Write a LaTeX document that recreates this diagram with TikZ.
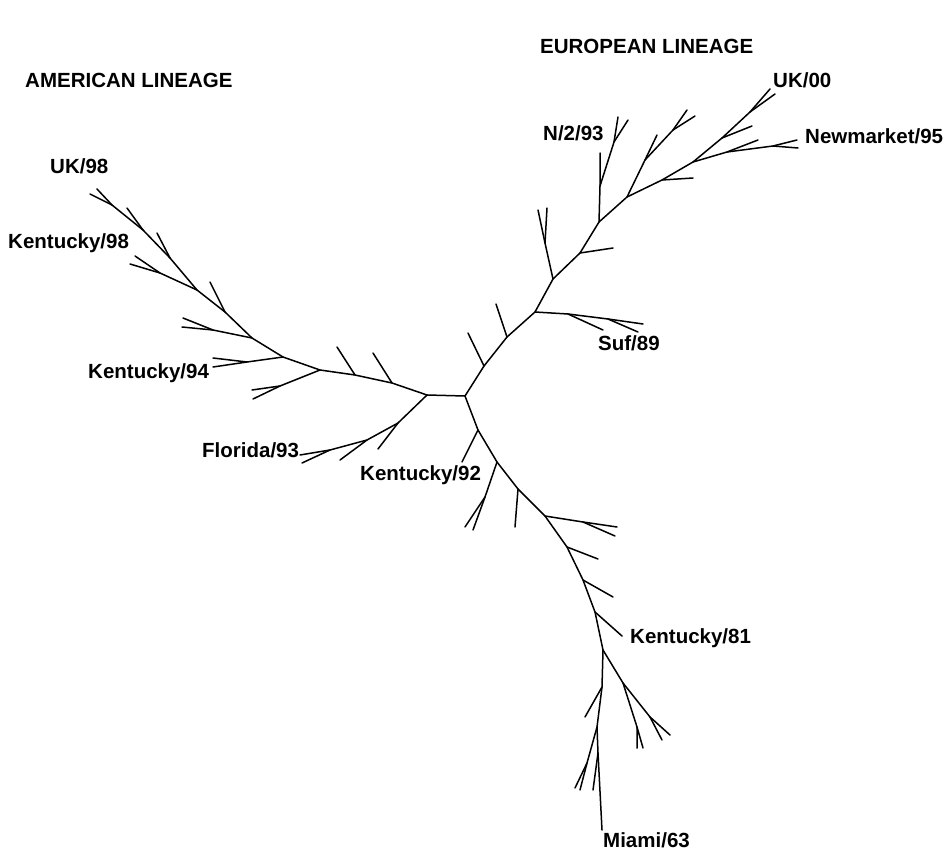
\documentclass[tikz,border=0pt]{standalone}
\usepackage{fontspec}
\setmainfont{Liberation Sans}

\begin{document}
\begin{tikzpicture}[
  x=1pt, y=-1pt,
  font=\bfseries\fontsize{20.5}{24}\selectfont,
  branch/.style={line width=1.5pt, line cap=round, line join=round},
  taxon/.style={inner sep=0pt, anchor=base west},
  lineage/.style={taxon, font=\bfseries\fontsize{20.5}{24}\selectfont}
]
\useasboundingbox (0,0) rectangle (947,851);

% centre of the tree
\coordinate (c1) at (427,395);
\coordinate (c2) at (465,396);

% european lineage, trunk and side branches
\coordinate (e1) at (484,366);  \coordinate (e1t) at (468,333);
\coordinate (e2) at (507,337);  \coordinate (e2t) at (496,304);
\coordinate (e3) at (535,312);
\coordinate (s1) at (568,314);  \coordinate (s1t) at (603,330);
\coordinate (s2) at (608,319);  \coordinate (s2t) at (643,324);
\coordinate (s3t) at (638,332);
\coordinate (e4) at (553,279);  \coordinate (e4a) at (545,243);
\coordinate (e4t) at (538,210); \coordinate (e4u) at (547,208);
\coordinate (e5) at (580,253);  \coordinate (e5t) at (613,248);
\coordinate (e6) at (599,222);  \coordinate (n1) at (600,186);
\coordinate (n1t) at (600,153); \coordinate (n2) at (614,142);
\coordinate (n2t) at (618,117); \coordinate (n2u) at (628,120);
\coordinate (e7) at (627,197);  \coordinate (g1) at (645,160);
\coordinate (g1t) at (657,135); \coordinate (g2) at (673,130);
\coordinate (g2t) at (687,110); \coordinate (g2u) at (695,116);
\coordinate (e8) at (662,180);  \coordinate (e8t) at (693,178);
\coordinate (e9) at (693,162);
\coordinate (w1) at (727,152);  \coordinate (w1t) at (758,140);
\coordinate (w2) at (773,146);  \coordinate (w2t) at (797,140);
\coordinate (w2u) at (798,148);
\coordinate (e10) at (722,138); \coordinate (e10t) at (752,126);
\coordinate (e11) at (750,112); \coordinate (e11t) at (770,89);
\coordinate (e11u) at (775,94);

% american lineage
\coordinate (a1) at (392,383);  \coordinate (a1t) at (373,353);
\coordinate (a2) at (355,375);  \coordinate (a2t) at (337,347);
\coordinate (a3) at (320,370);  \coordinate (b1) at (280,386);
\coordinate (b1t) at (252,390); \coordinate (b1u) at (253,399);
\coordinate (a4) at (283,357);  \coordinate (k1) at (247,362);
\coordinate (k1t) at (213,358); \coordinate (k1u) at (213,367);
\coordinate (a5) at (252,338);  \coordinate (k2) at (213,330);
\coordinate (k2t) at (183,318); \coordinate (k2u) at (182,327);
\coordinate (a6) at (225,312);  \coordinate (a6t) at (210,282);
\coordinate (a7) at (197,290);  \coordinate (k3) at (160,273);
\coordinate (k3t) at (135,256); \coordinate (k3u) at (130,264);
\coordinate (a8) at (170,258);  \coordinate (a8t) at (157,233);
\coordinate (a9) at (143,230);  \coordinate (a9t) at (127,208);
\coordinate (a10) at (112,205); \coordinate (a10t) at (97,189);
\coordinate (a10u) at (90,194);
\coordinate (f1) at (398,423);  \coordinate (f1t) at (378,449);
\coordinate (f2) at (367,440);  \coordinate (f2t) at (340,460);
\coordinate (f3) at (330,450);  \coordinate (f3t) at (300,455);
\coordinate (f3u) at (302,463);

% miami side
\coordinate (m1) at (478,430);  \coordinate (m1t) at (462,462);
\coordinate (m2) at (497,462);  \coordinate (p1) at (485,497);
\coordinate (p1t) at (465,527); \coordinate (p1u) at (473,530);
\coordinate (m3) at (518,489);  \coordinate (m3t) at (515,527);
\coordinate (m4) at (545,516);  \coordinate (q1) at (583,522);
\coordinate (q1t) at (617,527); \coordinate (q1u) at (615,536);
\coordinate (m5) at (567,547);  \coordinate (m5t) at (598,559);
\coordinate (m6) at (583,580);  \coordinate (m6t) at (613,597);
\coordinate (m7) at (595,612);  \coordinate (m7t) at (622,636);
\coordinate (m8) at (603,650);
\coordinate (r1) at (623,683);  \coordinate (r2) at (637,727);
\coordinate (r2t) at (637,748); \coordinate (r2u) at (643,748);
\coordinate (r3) at (650,717);  \coordinate (r3t) at (670,735);
\coordinate (r3u) at (662,740);
\coordinate (m9) at (602,687);  \coordinate (m9t) at (585,717);
\coordinate (m10) at (597,727); \coordinate (t1) at (587,763);
\coordinate (t1t) at (575,788); \coordinate (t1u) at (580,790);
\coordinate (m11) at (598,753); \coordinate (m11t) at (593,790);
\coordinate (mt) at (602,830);

% trunks
\draw[branch] (c1) -- (c2) -- (e1) -- (e2) -- (e3) -- (e4) -- (e5) -- (e6)
  -- (e7) -- (e8) -- (e9) -- (e10) -- (e11) -- (e11t);
\draw[branch] (c1) -- (a1) -- (a2) -- (a3) -- (a4) -- (a5) -- (a6) -- (a7)
  -- (a8) -- (a9) -- (a10) -- (a10t);
\draw[branch] (c2) -- (m1) -- (m2) -- (m3) -- (m4) -- (m5) -- (m6) -- (m7)
  -- (m8) -- (m9) -- (m10) -- (m11) -- (mt);
\draw[branch] (c1) -- (f1) -- (f2) -- (f3) -- (f3t);

% european side branches
\draw[branch] (e1) -- (e1t);
\draw[branch] (e2) -- (e2t);
\draw[branch] (e3) -- (s1) -- (s2) -- (s2t);
\draw[branch] (s1) -- (s1t);
\draw[branch] (s2) -- (s3t);
\draw[branch] (e4) -- (e4a) -- (e4t);
\draw[branch] (e4a) -- (e4u);
\draw[branch] (e5) -- (e5t);
\draw[branch] (e6) -- (n1) -- (n1t);
\draw[branch] (n1) -- (n2) -- (n2t);
\draw[branch] (n2) -- (n2u);
\draw[branch] (e7) -- (g1) -- (g1t);
\draw[branch] (g1) -- (g2) -- (g2t);
\draw[branch] (g2) -- (g2u);
\draw[branch] (e8) -- (e8t);
\draw[branch] (e9) -- (w1) -- (w2) -- (w2t);
\draw[branch] (w1) -- (w1t);
\draw[branch] (w2) -- (w2u);
\draw[branch] (e10) -- (e10t);
\draw[branch] (e11) -- (e11u);

% american side branches
\draw[branch] (a1) -- (a1t);
\draw[branch] (a2) -- (a2t);
\draw[branch] (a3) -- (b1) -- (b1t);
\draw[branch] (b1) -- (b1u);
\draw[branch] (a4) -- (k1) -- (k1t);
\draw[branch] (k1) -- (k1u);
\draw[branch] (a5) -- (k2) -- (k2t);
\draw[branch] (k2) -- (k2u);
\draw[branch] (a6) -- (a6t);
\draw[branch] (a7) -- (k3) -- (k3t);
\draw[branch] (k3) -- (k3u);
\draw[branch] (a8) -- (a8t);
\draw[branch] (a9) -- (a9t);
\draw[branch] (a10) -- (a10u);
\draw[branch] (f1) -- (f1t);
\draw[branch] (f2) -- (f2t);
\draw[branch] (f3) -- (f3u);

% miami side branches
\draw[branch] (m1) -- (m1t);
\draw[branch] (m2) -- (p1) -- (p1t);
\draw[branch] (p1) -- (p1u);
\draw[branch] (m3) -- (m3t);
\draw[branch] (m4) -- (q1) -- (q1t);
\draw[branch] (q1) -- (q1u);
\draw[branch] (m5) -- (m5t);
\draw[branch] (m6) -- (m6t);
\draw[branch] (m7) -- (m7t);
\draw[branch] (m8) -- (r1) -- (r3) -- (r3t);
\draw[branch] (r3) -- (r3u);
\draw[branch] (r1) -- (r2) -- (r2t);
\draw[branch] (r2) -- (r2u);
\draw[branch] (m9) -- (m9t);
\draw[branch] (m10) -- (t1) -- (t1t);
\draw[branch] (t1) -- (t1u);
\draw[branch] (m11) -- (m11t);

% lineage headings
\node[lineage] (eur) at (540,54) {EUROPEAN LINEAGE};
\node[lineage] (ame) at (25,87) {AMERICAN LINEAGE};

% taxon labels
\node[taxon] (uk00)  at (773,87)  {UK/00};
\node[taxon] (n293)  at (543,140) {N/2/93};
\node[taxon] (nm95)  at (805,143) {Newmarket/95};
\node[taxon] (uk98)  at (50,173)  {UK/98};
\node[taxon] (ky98)  at (8,248)   {Kentucky/98};
\node[taxon] (suf89) at (598,350) {Suf/89};
\node[taxon] (ky94)  at (88,378)  {Kentucky/94};
\node[taxon] (fl93)  at (202,457) {Florida/93};
\node[taxon] (ky92)  at (360,480) {Kentucky/92};
\node[taxon] (ky81)  at (630,643) {Kentucky/81};
\node[taxon] (mi63)  at (603,847) {Miami/63};

\end{tikzpicture}
\end{document}
